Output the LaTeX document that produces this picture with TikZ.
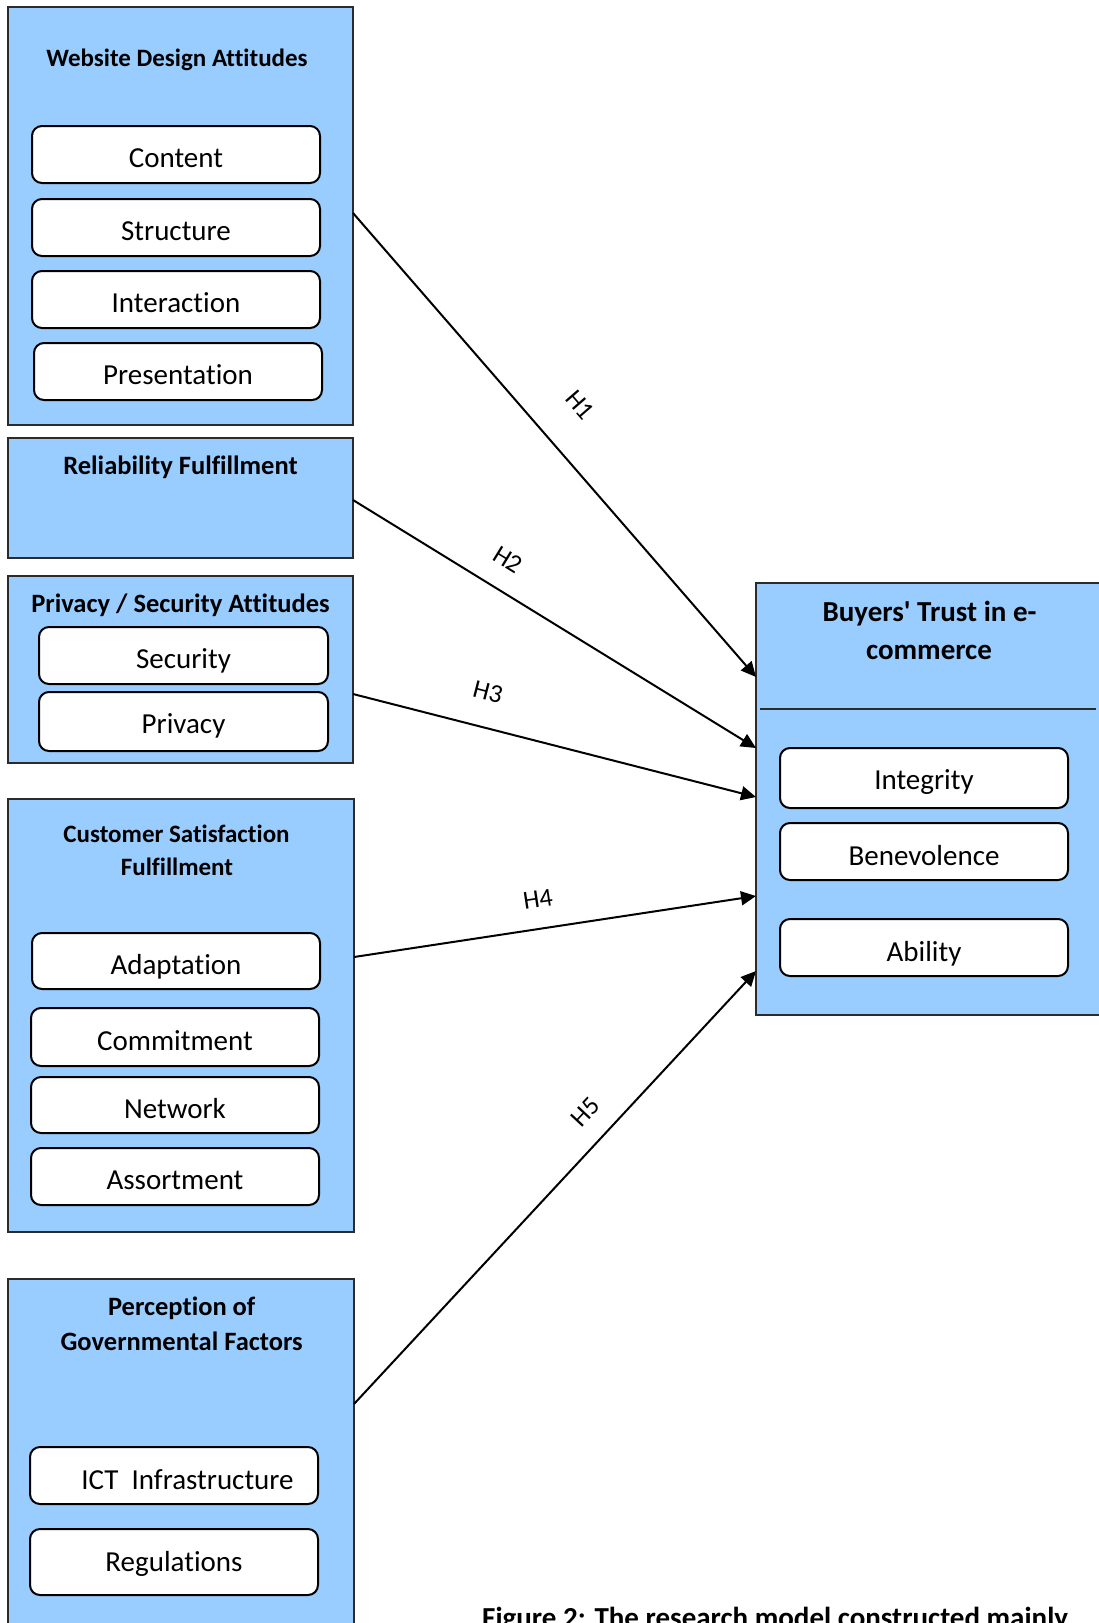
\documentclass[tikz,border=0pt]{standalone}
\usepackage{fontspec}
\newfontfamily\calfont{Carlito}[Ligatures={NoCommon,NoContextual}]
\usetikzlibrary{arrows.meta}
\definecolor{boxblue}{HTML}{99CCFF}
\definecolor{edgegray}{HTML}{2B2B2B}
\begin{document}
\begin{tikzpicture}[x=1pt,y=-1pt,
  bigbox/.style={draw=edgegray, fill=boxblue, line width=2pt, anchor=north west, inner sep=0pt, outer sep=0pt},
  itembox/.style={draw=black, fill=white, line width=2pt, rounded corners=10pt, inner sep=0pt, outer sep=0pt,
     font=\calfont\fontsize{29}{34}\selectfont, text height=26pt, text depth=0pt, anchor=north west,
     minimum width=288pt, minimum height=57pt},
  titleA/.style={font=\calfont\bfseries\fontsize{25}{30}\selectfont, anchor=base, inner sep=0pt},
  titleB/.style={font=\calfont\bfseries\fontsize{26.5}{31}\selectfont, anchor=base, inner sep=0pt},
  titleC/.style={font=\calfont\bfseries\fontsize{29}{34}\selectfont, anchor=base, inner sep=0pt},
  hlabel/.style={font=\calfont\fontsize{26}{30}\selectfont, inner sep=0pt},
  conn/.style={draw=black, line width=2pt, -{Triangle[length=15pt,width=14pt]}},
  divider/.style={draw=edgegray, line width=2pt}
]
\clip (0,0) rectangle (1099,1623);
\fill[white] (0,0) rectangle (1099,1623);

% Box 1
\node[bigbox, minimum width=345.5pt, minimum height=418pt] (b1) at (7.5,7) {};
\node[titleA] (t1) at (177,66.5) {Website Design Attitudes};
\node[itembox] (i11) at (32,126) {Content};
\node[itembox] (i12) at (32,199) {Structure};
\node[itembox] (i13) at (32,271) {Interaction};
\node[itembox] (i14) at (34,343) {Presentation};

% Box 2
\node[bigbox, minimum width=345.5pt, minimum height=120pt] (b2) at (7.5,438) {};
\node[titleB] (t2) at (180.5,474) {Reliability Fulfillment};

% Box 3
\node[bigbox, minimum width=345.5pt, minimum height=187pt] (b3) at (7.5,576) {};
\node[titleB] (t3) at (180.5,612.3) {Privacy / Security Attitudes};
\node[itembox, minimum width=289pt] (i31) at (39,627) {Security};
\node[itembox, minimum width=289pt, minimum height=59pt, text height=23.6pt] (i32) at (39,692) {Privacy};

% Box 4
\node[bigbox, minimum width=346pt, minimum height=433pt] (b4) at (8,799) {};
\node[titleA] (t4a) at (176.5,842.7) {Customer Satisfaction};
\node[titleA] (t4b) at (177,875) {Fulfillment};
\node[itembox, minimum height=56pt] (i41) at (32,933) {Adaptation};
\node[itembox, minimum height=58pt] (i42) at (31,1008) {Commitment};
\node[itembox, minimum height=56pt] (i43) at (31,1077) {Network};
\node[itembox] (i44) at (31,1148) {Assortment};

% Box 5
\node[bigbox, minimum width=346pt, minimum height=420pt] (b5) at (8,1279) {};
\node[titleB] (t5a) at (181.7,1315) {Perception of};
\node[titleB] (t5b) at (181.7,1350) {Governmental Factors};
\node[itembox, text height=27.6pt] (i51) at (30,1447) {\hspace*{27pt}ICT\ \ Infrastructure};
\node[itembox, minimum height=66pt, text height=18.7pt] (i52) at (30,1529) {Regulations};

% Target box
\node[bigbox, minimum width=360pt, minimum height=432pt] (bt) at (756,583) {};
\node[titleC] (tt1) at (929.5,621.7) {Buyers' Trust in e-};
\node[titleC] (tt2) at (929,659.3) {commerce};
\coordinate (d1) at (760,709);
\coordinate (d2) at (1096,709);
\draw[divider] (d1) -- (d2);
\node[itembox, minimum height=60pt, text height=22.6pt] (it1) at (780,748) {Integrity};
\node[itembox, text height=27.6pt] (it2) at (780,823) {Benevolence};
\node[itembox, text height=27.6pt] (it3) at (780,919) {Ability};

% Connector end points
\coordinate (s1) at (b1.east |- 0,213);
\coordinate (s2) at (b2.east |- 0,500);
\coordinate (s3) at (b3.east |- 0,694);
\coordinate (s4) at (b4.east |- 0,957);
\coordinate (s5) at (b5.east |- 0,1404);
\coordinate (e1) at (bt.west |- 0,677);
\coordinate (e2) at (bt.west |- 0,748);
\coordinate (e3) at (bt.west |- 0,797);
\coordinate (e4) at (bt.west |- 0,896);
\coordinate (e5) at (bt.west |- 0,971);

\draw[conn] (s1) -- (e1);
\draw[conn] (s2) -- (e2);
\draw[conn] (s3) -- (e3);
\draw[conn] (s4) -- (e4);
\draw[conn] (s5) -- (e5);

\node[hlabel, rotate=-49] (h1) at (580,405) {H1};
\node[hlabel, rotate=-31.6] (h2) at (508,560) {H2};
\node[hlabel, rotate=-14.5] (h3) at (488,692) {H3};
\node[hlabel, rotate=8.6] (h4) at (538,899) {H4};
\node[hlabel, rotate=47] (h5) at (585,1112) {H5};

% Caption (cut by the lower edge)
\node[font=\calfont\bfseries\fontsize{29}{34}\selectfont, anchor=base west, inner sep=0pt] (cap) at (482,1627) {Figure 2: The research model constructed mainly};
\end{tikzpicture}
\end{document}
